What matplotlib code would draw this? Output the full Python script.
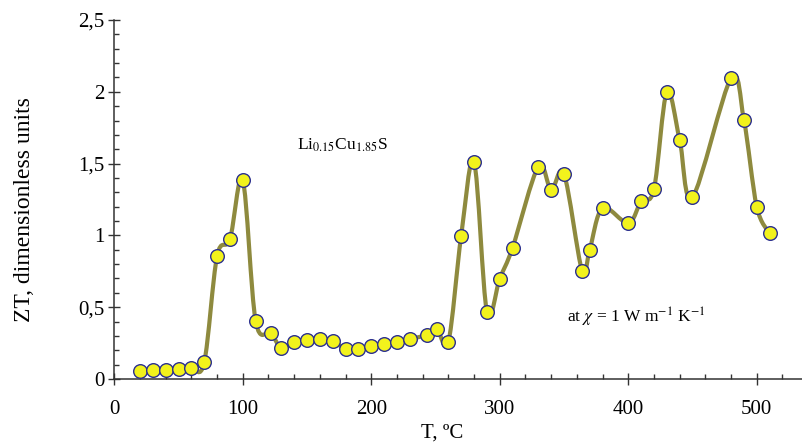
import numpy as np
import matplotlib
matplotlib.use('agg')
import matplotlib.pyplot as plt
from matplotlib.path import Path
from matplotlib.patches import PathPatch
from matplotlib.ticker import MultipleLocator, FuncFormatter

# temperature, C and ZT
T = [20, 30, 40, 50, 60, 70, 80, 90, 100, 110, 122, 130, 140, 150, 160, 170,
     180, 190, 200, 210, 220, 230, 243, 251, 260, 270, 280, 290, 300, 310,
     330, 340, 350, 364, 370, 380, 400, 410, 420, 430, 440, 450, 480, 490,
     500, 510]
ZT = [0.058, 0.063, 0.063, 0.07, 0.074, 0.116, 0.855, 0.973, 1.385, 0.406,
      0.318, 0.216, 0.256, 0.272, 0.279, 0.264, 0.211, 0.211, 0.232, 0.244,
      0.256, 0.277, 0.307, 0.351, 0.258, 0.999, 1.512, 0.467, 0.699, 0.915,
      1.479, 1.317, 1.428, 0.755, 0.9, 1.19, 1.085, 1.238, 1.322, 1.998,
      1.666, 1.266, 2.095, 1.805, 1.2, 1.015]

plt.rcParams['font.family'] = ['Liberation Serif', 'DejaVu Serif']

fig = plt.figure(figsize=(8.03, 4.43), dpi=100)
ax = fig.add_axes([0.1423, 0.1445, 0.8577, 0.8104])

# smoothed line like a spreadsheet chart (Catmull-Rom as cubic beziers)
pts = np.column_stack([T, ZT])
verts = [pts[0]]
codes = [Path.MOVETO]
n = len(pts)
for i in range(n - 1):
    p0 = pts[i - 1] if i > 0 else pts[i]
    p1 = pts[i]
    p2 = pts[i + 1]
    p3 = pts[i + 2] if i + 2 < n else pts[i + 1]
    c1 = p1 + (p2 - p0) / 6.0
    c2 = p2 - (p3 - p1) / 6.0
    verts += [c1, c2, p2]
    codes += [Path.CURVE4] * 3
ax.add_patch(PathPatch(Path(verts, codes), facecolor='none',
                       edgecolor='#8e8a3e', lw=3.0, zorder=2,
                       capstyle='round', joinstyle='round'))
ax.plot(T, ZT, linestyle='none', marker='o', ms=9.8, mfc='#f2f21c',
        mec='#2b2f8f', mew=1.0, zorder=3)

ax.set_xlim(0, 536)
ax.set_ylim(0, 2.5)
ax.xaxis.set_major_locator(MultipleLocator(100))
ax.xaxis.set_minor_locator(MultipleLocator(20))
ax.yaxis.set_major_locator(MultipleLocator(0.5))
ax.yaxis.set_minor_locator(MultipleLocator(0.1))
ax.yaxis.set_major_formatter(FuncFormatter(lambda v, p: ('%g' % v).replace('.', ',')))

for s in ['top', 'right']:
    ax.spines[s].set_visible(False)
for s in ['left', 'bottom']:
    ax.spines[s].set_linewidth(1.1)
    ax.spines[s].set_color('#333333')
ax.tick_params(which='major', direction='inout', length=8, width=1.0,
               labelsize=15, color='#333333', pad=3)
ax.tick_params(which='minor', direction='in', length=3.5, width=1.0,
               color='#333333')
ax.tick_params(axis='x', pad=11)

fig.text(0.031, 0.528, 'ZT, dimensionless units', rotation=90, fontsize=17,
         ha='center', va='center')
fig.text(0.551, 0.022, 'T, ºC', fontsize=15, ha='center', va='center')

ax.text(142, 1.63, r'Li$_{0.15}$Cu$_{1.85}$S', fontsize=12.5, ha='left',
        va='center', math_fontfamily='stix')
ax.text(352, 0.43, r'at $\chi$ = 1 W m$^{-1}$ K$^{-1}$', fontsize=12.5,
        ha='left', va='center', math_fontfamily='stix')

fig.savefig('out.png', dpi=100)
